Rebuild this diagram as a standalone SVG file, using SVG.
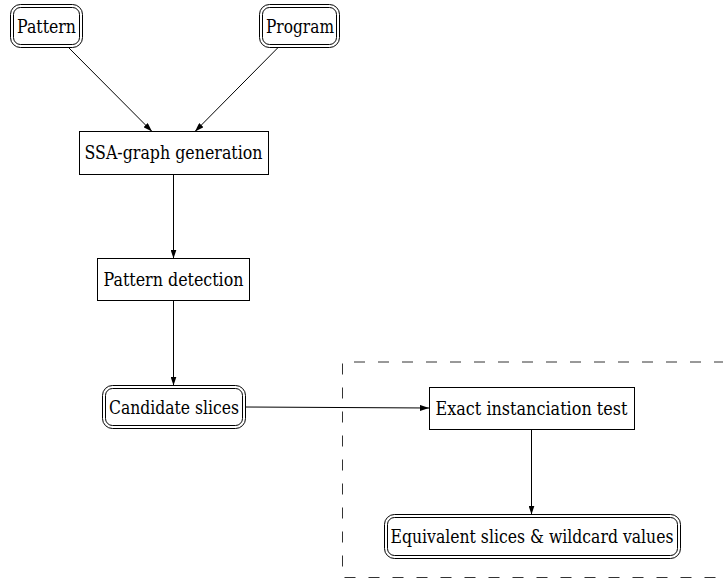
<svg xmlns="http://www.w3.org/2000/svg" width="723" height="579" viewBox="0 0 723 579">
<style>
text{font-family:'DejaVu Serif','Liberation Serif',serif;font-size:18px;fill:#000;text-anchor:middle}
.b{fill:#fff;stroke:#000;stroke-width:1}
.e{stroke:#000;stroke-width:1;fill:none;marker-end:url(#ah)}
.d{fill:none;stroke:#333;stroke-width:1;stroke-dasharray:11 13}
</style>
<defs>
<marker id="ah" markerUnits="userSpaceOnUse" markerWidth="9" markerHeight="6" refX="9" refY="3" orient="auto">
<path d="M0,0 L9,3 L0,6 Z" fill="#000"/>
</marker>
</defs>
<rect width="723" height="579" fill="#fff"/>
<path class="d" d="M725,362 H342.5 V577.5 H725"/>
<g id="connectors">
<line class="e" x1="68.3" y1="47.3" x2="152" y2="131.5"/>
<line class="e" x1="278.3" y1="47.3" x2="195" y2="131.5"/>
<line class="e" x1="173.5" y1="174.5" x2="173.5" y2="258.5"/>
<line class="e" x1="173.5" y1="301" x2="173.5" y2="385.5"/>
<line class="e" x1="245.5" y1="407" x2="429" y2="408"/>
<line class="e" x1="531.5" y1="429.5" x2="531.5" y2="514.5"/>
</g>
<g id="pattern">
<rect class="b" x="10.5" y="4.5" width="72" height="43" rx="10"/>
<rect class="b" x="13.5" y="7.5" width="66" height="37" rx="7"/>
<text x="46.5" y="32.5" textLength="59" lengthAdjust="spacingAndGlyphs">Pattern</text>
</g>
<g id="program">
<rect class="b" x="259.5" y="4.5" width="80" height="43" rx="10"/>
<rect class="b" x="262.5" y="7.5" width="74" height="37" rx="7"/>
<text x="300" y="32.5" textLength="68" lengthAdjust="spacingAndGlyphs">Program</text>
</g>
<g id="ssa">
<rect class="b" x="79.5" y="131.5" width="189" height="43"/>
<text x="173.5" y="159" textLength="178" lengthAdjust="spacingAndGlyphs">SSA-graph generation</text>
</g>
<g id="detection">
<rect class="b" x="97.5" y="258.5" width="152" height="42"/>
<text x="173.5" y="286" textLength="140" lengthAdjust="spacingAndGlyphs">Pattern detection</text>
</g>
<g id="candidate">
<rect class="b" x="102.5" y="385.5" width="143" height="43" rx="10"/>
<rect class="b" x="105.5" y="388.5" width="137" height="37" rx="7"/>
<text x="174" y="413.5" textLength="130" lengthAdjust="spacingAndGlyphs">Candidate slices</text>
</g>
<g id="exact">
<rect class="b" x="429.5" y="387.5" width="205" height="42"/>
<text x="531.5" y="414.5" textLength="192" lengthAdjust="spacingAndGlyphs">Exact instanciation test</text>
</g>
<g id="equivalent">
<rect class="b" x="384.5" y="514.5" width="296" height="44" rx="10"/>
<rect class="b" x="387.5" y="517.5" width="290" height="38" rx="7"/>
<text x="532" y="542.5" textLength="283" lengthAdjust="spacingAndGlyphs">Equivalent slices &amp; wildcard values</text>
</g>
</svg>
